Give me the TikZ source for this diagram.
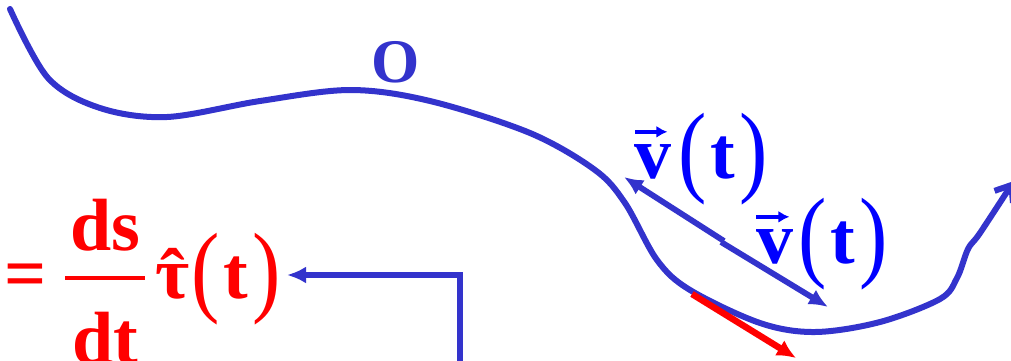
\documentclass[tikz,border=0pt]{standalone}
\usepackage{fontspec}
\usepackage{graphicx}
\setmainfont{Liberation Serif}
\usetikzlibrary{arrows.meta}
\definecolor{curveblue}{RGB}{51,51,204}
\definecolor{txtblue}{RGB}{0,0,255}
\definecolor{txtred}{RGB}{255,0,0}
\newcommand{\myparL}{{\mdseries\raisebox{-5pt}{\scalebox{1.15}[1.37]{(}}}}
\newcommand{\myparR}{{\mdseries\raisebox{-5pt}{\scalebox{1.15}[1.37]{)}}}}
\newcommand{\myhattau}{\ooalign{τ\cr\hidewidth\kern2pt\raisebox{-2pt}{ˆ}\hidewidth\cr}}
\begin{document}
\begin{tikzpicture}[x=1pt,y=-1pt,
  curve/.style={draw=curveblue, line width=6pt, line cap=round, line join=round},
  vecarrow/.style={draw=curveblue, line width=5.8pt, -{Latex[length=19pt,width=17pt]}},
  redarrow/.style={draw=txtred, line width=6.5pt, -{Latex[length=19pt,width=18pt]}},
  accent/.style={line width=3.5pt, -{Latex[length=11pt,width=12pt]}},
  bigtext/.style={inner sep=0pt, font=\fontsize{74}{80}\selectfont\bfseries},
  bluetext/.style={bigtext, text=txtblue},
  redtext/.style={bigtext, text=txtred},
  origin/.style={inner sep=0pt, text=curveblue, font=\fontsize{62}{70}\selectfont\bfseries}]
\useasboundingbox (0,0) rectangle (1011,360);

% trajectory
\draw[curve, -{Straight Barb[length=14pt,width=22pt]}] plot[smooth, tension=0.55] coordinates {
 (10,9) (48,78) (100,108) (167,117) (260,101) (350,90) (430,101) (530,133)
 (595,170) (625,203) (657,260) (690,290) (760,323) (815,332) (880,322)
 (940,299) (957,278) (968,249) (980,233) (1014,181)};

% origin label
\node[origin, anchor=base] (O) at (396,82) {O};

% velocity arrows
\coordinate (a0) at (724,241);
\coordinate (a1) at (624,177);
\coordinate (b0) at (721,242);
\coordinate (b1) at (828,307);
\draw[vecarrow] (a0) -- (a1);
\draw[vecarrow] (b0) -- (b1);

% red tangent arrow
\coordinate (r0) at (692,294);
\coordinate (r1) at (796,358);
\draw[redarrow] (r0) -- (r1);

% label v(t) 1
\node[bluetext, anchor=base west] (v1) at (634,178) {v};
\node[bluetext, anchor=base west] (p1) at (678,178) {\myparL\kern4pt t\kern4pt\myparR};
\draw[accent, txtblue] ([xshift=1pt,yshift=12pt]v1.north west) -- ([xshift=-4pt,yshift=12pt]v1.north east);

% label v(t) 2
\node[bluetext, anchor=base west] (v2) at (756,263) {v};
\node[bluetext, anchor=base west] (p2) at (798,263) {\myparL\kern4pt t\kern4pt\myparR};
\draw[accent, txtblue] ([xshift=0pt,yshift=12pt]v2.north west) -- ([xshift=-4pt,yshift=12pt]v2.north east);

% formula
\node[redtext, anchor=base west] (eq) at (4,298) {=};
\node[redtext, anchor=base] (ds) at (105,250) {ds};
\node[redtext, anchor=base] (dt) at (105,363) {dt};
\coordinate (f0) at (65,278);
\coordinate (f1) at (145,278);
\draw[txtred, line width=3.5pt] (f0) -- (f1);
\node[redtext, anchor=base west] (tau) at (155,298) {\myhattau};
\node[redtext, anchor=base west] (tp) at (191,298) {\myparL\kern4pt t\kern4pt\myparR};

% elbow arrow
\coordinate (e0) at (460,365);
\coordinate (e1) at (287,275);
\draw[vecarrow] (e0) |- (e1);
\end{tikzpicture}
\end{document}
